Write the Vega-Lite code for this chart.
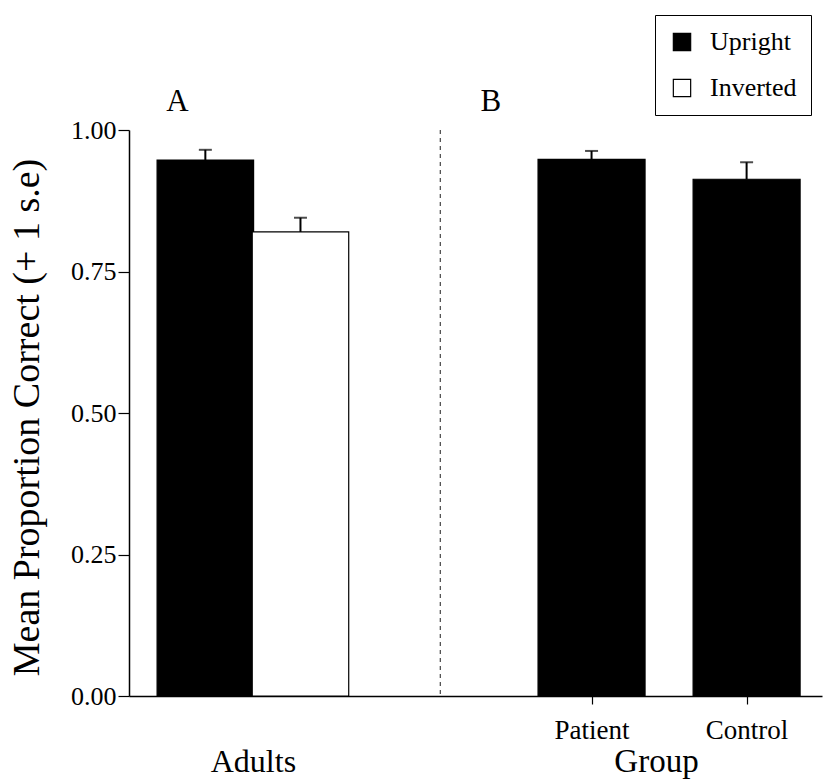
{
  "$schema": "https://vega.github.io/schema/vega-lite/v6.json",
  "autosize": {"type": "none"},
  "width": 693,
  "height": 566,
  "padding": {"left": 129, "top": 130, "right": 5, "bottom": 85},
  "background": "white",
  "config": {
    "font": "Liberation Serif",
    "view": {"stroke": null},
    "axis": {"grid": false, "domainColor": "black", "tickColor": "black", "labelColor": "black", "titleColor": "black", "titleFontWeight": "normal", "labelFont": "Liberation Serif", "titleFont": "Liberation Serif"}
  },
  "datasets": {
    "bars": [
      {"panel": "A", "group": "Adults", "condition": "Upright", "pos": 1, "mean": 0.947, "upper": 0.965},
      {"panel": "A", "group": "Adults", "condition": "Inverted", "pos": 2, "mean": 0.82, "upper": 0.845},
      {"panel": "B", "group": "Patient", "condition": "Upright", "pos": 5.06, "mean": 0.948, "upper": 0.963},
      {"panel": "B", "group": "Control", "condition": "Upright", "pos": 6.69, "mean": 0.913, "upper": 0.943}
    ],
    "panels": [
      {"label": "A", "pos": 0.706, "y": 1.05},
      {"label": "B", "pos": 4.0, "y": 1.05}
    ]
  },
  "layer": [
    {
      "data": {"name": "bars"},
      "transform": [{"filter": "datum.panel == 'A'"}],
      "mark": {"type": "bar", "width": 96.5, "stroke": "black", "strokeWidth": 1.2},
      "encoding": {
        "x": {
          "field": "pos", "type": "quantitative",
          "scale": {"domain": [0.25, 7.43], "nice": false, "zero": false},
          "axis": {
            "values": [1.5, 5.06, 6.69],
            "labelExpr": "datum.value == 1.5 ? 'Adults' : (datum.value < 6 ? 'Patient' : 'Control')",
            "tickSize": 8,
            "tickWidth": 1.2,
            "domainWidth": 1.5,
            "tickOpacity": {"condition": {"test": "datum.value == 1.5", "value": 0}, "value": 1},
            "labelBaseline": "alphabetic",
            "labelPadding": {"condition": {"test": "datum.value == 1.5", "value": 67}, "value": 34},
            "labelFontSize": {"condition": {"test": "datum.value == 1.5", "value": 32}, "value": 27},
            "title": "Group",
            "titleFontSize": 33,
            "titleX": 527,
            "titleY": 75,
            "titleBaseline": "alphabetic",
            "titleAnchor": "start",
            "titleAlign": "center"
          }
        },
        "y": {
          "field": "mean", "type": "quantitative",
          "scale": {"domain": [0, 1], "nice": false},
          "axis": {
            "values": [0, 0.25, 0.5, 0.75, 1],
            "format": ".2f",
            "tickSize": 11,
            "tickWidth": 1.2,
            "domainWidth": 1.5,
            "labelFontSize": 26,
            "labelPadding": 2,
            "title": "Mean Proportion Correct (+ 1 s.e)",
            "titleFontSize": 38,
            "titleAngle": -90,
            "titleX": -91,
            "titleY": 287,
            "titleBaseline": "alphabetic",
            "titleAlign": "center"
          }
        },
        "fill": {
          "field": "condition", "type": "nominal",
          "scale": {"domain": ["Upright", "Inverted"], "range": ["black", "white"]},
          "legend": {
            "title": null,
            "orient": "none",
            "legendX": 526,
            "legendY": -115,
            "strokeColor": "black",
            "padding": 14,
            "symbolType": "square",
            "symbolSize": 300,
            "symbolStrokeColor": "black",
            "symbolStrokeWidth": 1.2,
            "labelFontSize": 26,
            "labelColor": "black",
            "labelFont": "Liberation Serif",
            "rowPadding": 20,
            "labelOffset": 15
          }
        }
      }
    },
    {
      "data": {"name": "bars"},
      "transform": [{"filter": "datum.panel == 'B'"}],
      "mark": {"type": "bar", "width": 107, "stroke": "black", "strokeWidth": 1.2},
      "encoding": {
        "x": {"field": "pos", "type": "quantitative"},
        "y": {"field": "mean", "type": "quantitative"},
        "fill": {"field": "condition", "type": "nominal"}
      }
    },
    {
      "data": {"name": "bars"},
      "mark": {"type": "rule", "color": "black", "strokeWidth": 2},
      "encoding": {
        "x": {"field": "pos", "type": "quantitative"},
        "y": {"field": "mean", "type": "quantitative"},
        "y2": {"field": "upper"}
      }
    },
    {
      "data": {"name": "bars"},
      "mark": {"type": "tick", "orient": "horizontal", "color": "black", "size": 13, "thickness": 2},
      "encoding": {
        "x": {"field": "pos", "type": "quantitative"},
        "y": {"field": "upper", "type": "quantitative"}
      }
    },
    {
      "data": {"values": [{"divider": 3.47}]},
      "mark": {"type": "rule", "color": "#444444", "strokeWidth": 1.2, "strokeDash": [4, 4]},
      "encoding": {
        "x": {"field": "divider", "type": "quantitative"}
      }
    },
    {
      "data": {"name": "panels"},
      "mark": {"type": "text", "fontSize": 31, "color": "black", "baseline": "middle", "align": "center"},
      "encoding": {
        "x": {"field": "pos", "type": "quantitative"},
        "y": {"field": "y", "type": "quantitative"},
        "text": {"field": "label"}
      }
    }
  ]
}
